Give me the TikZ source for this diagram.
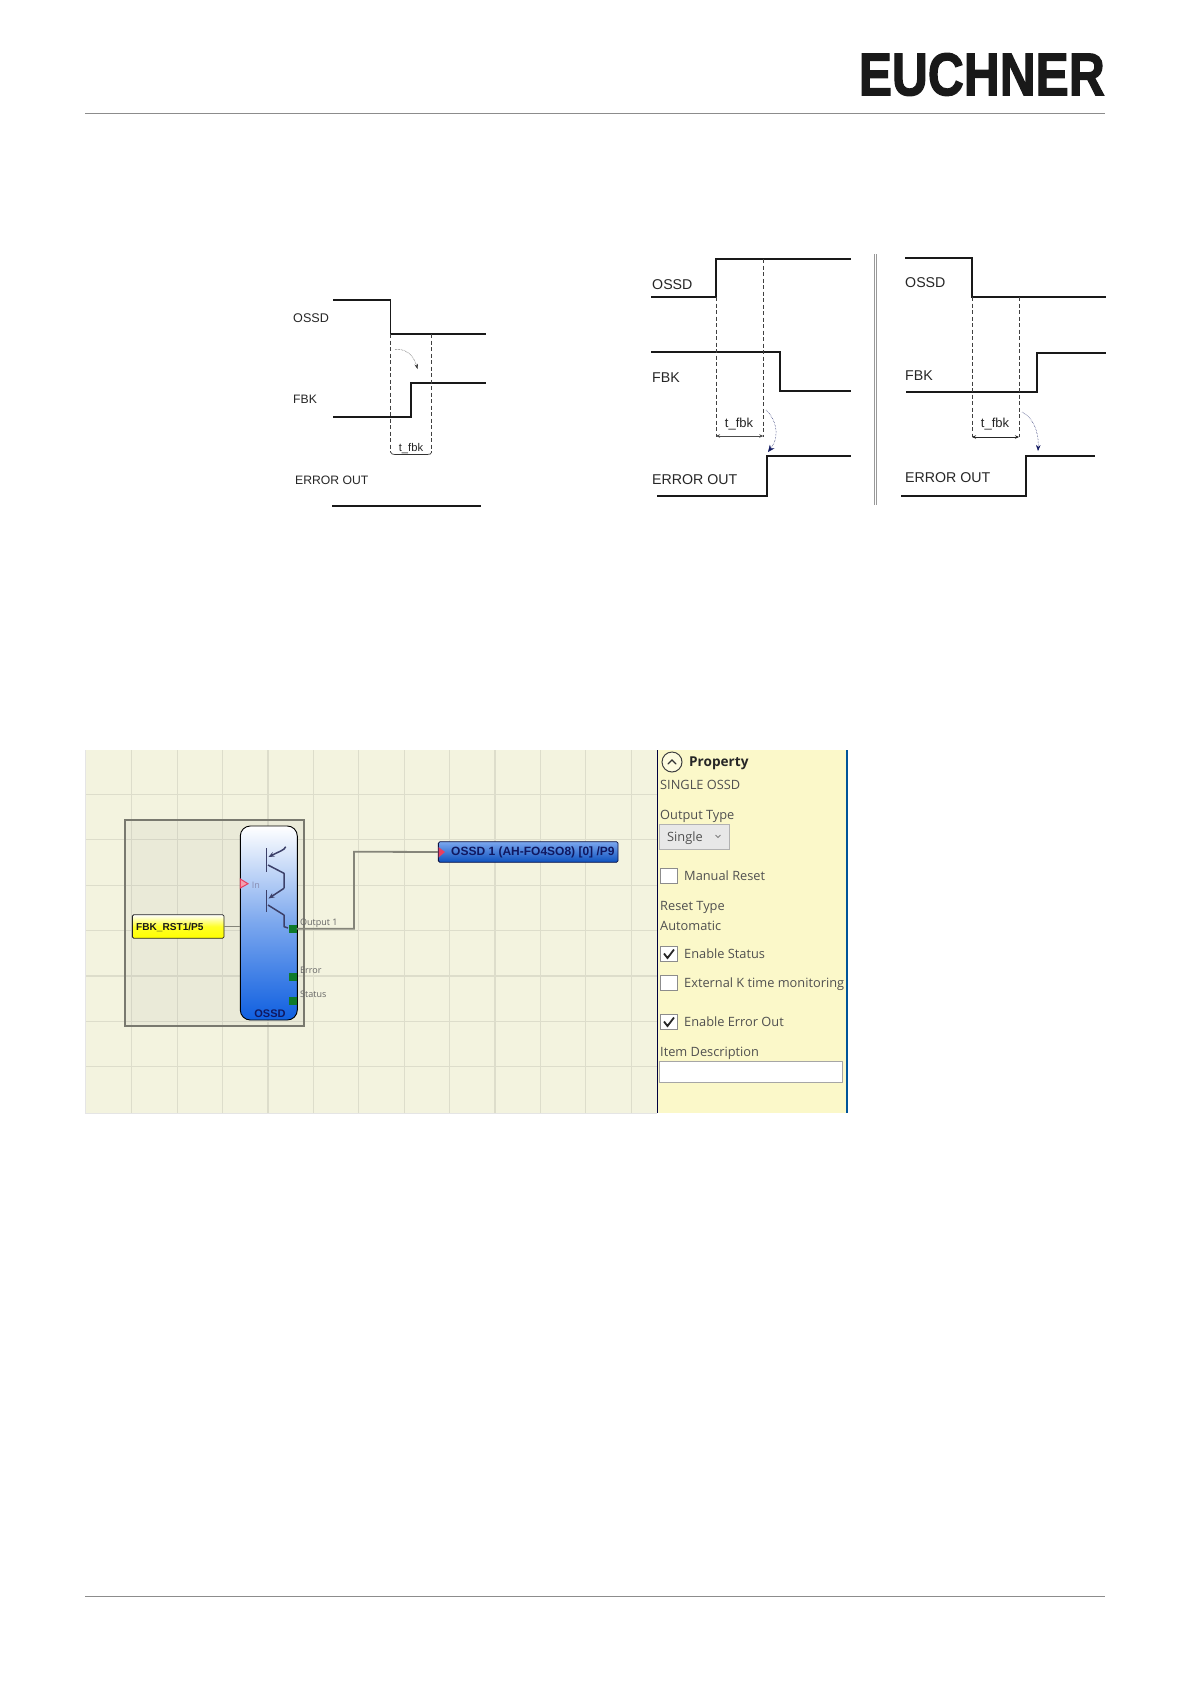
\documentclass[tikz,border=0pt]{standalone}
\usepackage{fontspec}
\usepackage{graphicx}
\setmainfont{Liberation Sans}
\newfontfamily\uifont{Open Sans}
\newfontfamily\logofont[BoldFeatures={FakeBold=2.2}]{Liberation Sans}
\usetikzlibrary{arrows.meta}
\definecolor{gridbg}{HTML}{F3F3DF}
\definecolor{gridln}{HTML}{DDDDCB}
\definecolor{panelbg}{HTML}{FBF8C9}
\definecolor{wirec}{HTML}{85857A}
\definecolor{navyc}{HTML}{101860}
\definecolor{greenc}{HTML}{0F7A2A}
\definecolor{redtri}{HTML}{E84060}
\definecolor{bluec}{HTML}{0F5FE0}
\definecolor{uitext}{HTML}{505050}
\newcommand{\fs}[1]{\fontsize{#1}{#1}\selectfont}
\tikzset{
  sig/.style={line width=2pt,line join=miter,color=black!90},
  sigthin/.style={line width=1.4pt,color=black!90},
  dashl/.style={line width=.6pt,dash pattern=on 4pt off 2.5pt,color=black!75},
  lab/.style={anchor=west,inner sep=0pt,text height=.72em,text depth=0pt,text=black!85},
  lablarge/.style={lab,font=\fs{14.2}},
  labsmall/.style={lab,font=\fs{12.2}},
  tlab/.style={anchor=center,inner sep=0pt,text height=.72em,text depth=0pt,text=black!85},
  curveblue/.style={line width=.5pt,densely dotted,color=navyc,-{Stealth[length=7pt,width=6pt,color=navyc]}},
  ui/.style={lab,font=\uifont\fs{12.8},text=uitext},
  uibox/.style={draw=black!45,fill=white,line width=.8pt,minimum width=17pt,minimum height=15pt,inner sep=0pt},
  port/.style={fill=greenc,minimum width=8pt,minimum height=8pt,inner sep=0pt},
  portlab/.style={lab,font=\uifont\fs{9},text=black!60},
  wire/.style={line width=1.8pt,color=wirec},
  tran/.style={line width=1.5pt,color=navyc!70!black!80,line join=round},
}
\begin{document}
\begin{tikzpicture}[x=1pt,y=-1pt]
\useasboundingbox (0,0) rectangle (1191,1684);
\fill[white] (0,0) rectangle (1191,1684);
% header and footer
\node[inner sep=0pt,anchor=north east,text=black!90] (logo) at (1105,53) {\resizebox{246pt}{42pt}{\logofont\bfseries EUCHNER}};
\coordinate (hl) at (85,113); \coordinate (hr) at (1105,113);
\draw[black!45,line width=1pt] (hl) -- (hr);
\coordinate (fl) at (85,1596); \coordinate (fr) at (1105,1596);
\draw[black!45,line width=1pt] (fl) -- (fr);
% timing left
\draw[sigthin] (333,300) -- (390.5,300) -- (390.5,333.7);
\draw[sig] (390.5,333.7) -- (486,333.7);
\draw[sig] (333,416.7) -- (411,416.7) -- (411,383) -- (486,383);
\draw[sig] (332,506) -- (481,506);
\draw[dashl] (390.5,334) -- (390.5,452);
\draw[dashl] (431.7,334) -- (431.7,452);
\draw[line width=.7pt,black!80] (390.5,452) .. controls (391,454) and (393,454.5) .. (395,454.5) -- (427,454.5) .. controls (430,454.5) and (431.5,454) .. (431.7,452);
\draw[line width=.5pt,densely dotted,black!80,-{Stealth[length=5pt,width=3.5pt]}] (395,349.5) .. controls (406,348) and (414,356) .. (417.5,369);
\node[lab,font=\fs{12.6}] (a1) at (293,319) {OSSD};
\node[lab,font=\fs{12.2}] (a2) at (293,400) {FBK};
\node[labsmall] (a3) at (295,481) {ERROR OUT};
\node[tlab,font=\fs{11.2}] (a4) at (411,448) {t\_fbk};
% timing middle
\draw[sig] (651,297) -- (716,297) -- (716,258.7) -- (851,258.7);
\draw[sig] (651,352) -- (780,352) -- (780,391) -- (851,391);
\draw[sig] (657,495.5) -- (767,495.5) -- (767,456) -- (851,456);
\draw[dashl] (716,297) -- (716,437);
\draw[dashl] (763.3,259) -- (763.3,437);
\draw[line width=.8pt,black!70,{Stealth[length=4pt,width=3.5pt]}-{Stealth[length=4pt,width=3.5pt]}] (716,436) -- (763.3,436);
\draw[curveblue] (766,410) .. controls (775,418) and (781,435) .. (768,452);
\node[lablarge] (b1) at (652,285.5) {OSSD};
\node[lablarge] (b2) at (652,378.5) {FBK};
\node[lablarge] (b3) at (652,480.5) {ERROR OUT};
\node[tlab,font=\fs{13}] (b4) at (739,424) {t\_fbk};
% separator
\draw[black!40,line width=.9pt] (874.3,254) -- (874.3,505);
\draw[black!40,line width=.9pt] (876.3,254) -- (876.3,505);
% timing right
\draw[sig] (905,258) -- (972,258) -- (972,297) -- (1106,297);
\draw[sig] (906,392) -- (1037,392) -- (1037,353) -- (1106,353);
\draw[sig] (901,496) -- (1026,496) -- (1026,456) -- (1095,456);
\draw[dashl] (972,297) -- (972,437);
\draw[dashl] (1019,297) -- (1019,437);
\draw[line width=.8pt,black!85,{Stealth[length=4pt,width=3.5pt]}-{Stealth[length=4pt,width=3.5pt]}] (972,437) -- (1019,437);
\draw[line width=.5pt,densely dotted,color=navyc,-{Stealth[length=6pt,width=4.5pt,color=navyc]}] (1022,412) .. controls (1032,417) and (1039,430) .. (1038,451);
\node[lablarge] (c1) at (905,283.5) {OSSD};
\node[lablarge] (c2) at (905,376.5) {FBK};
\node[lablarge] (c3) at (905,478.5) {ERROR OUT};
\node[tlab,font=\fs{13}] (c4) at (995,424) {t\_fbk};
% screenshot backgrounds
\fill[gridbg] (85,750) rectangle (657,1113);
\fill[panelbg] (657,750) rectangle (847,1113);
\foreach \k in {0,...,11} \draw[gridln,line width=1.2pt] ({131.7+45.4*\k},750) -- ({131.7+45.4*\k},1113);
\foreach \k in {0,...,6} \draw[gridln,line width=1.2pt] (85,{794.3+45.4*\k}) -- (657,{794.3+45.4*\k});
\draw[black!10,line width=.8pt] (85,750) -- (85,1113) -- (657,1113);
\draw[black!75!blue,line width=1pt] (657,750) -- (657,1113);
\draw[blue!45!cyan!60!black,line width=2pt] (847,750) -- (847,1113);
% group box
\fill[black!35,opacity=.11] (125.3,819.7) rectangle (304,1026);
\draw[black!50!gridbg,line width=1.8pt] (125.3,819.7) rectangle (304,1026);
% block
\node[draw=black,line width=.9pt,rounded corners=10pt,top color=white,bottom color=bluec,middle color=bluec!55!white,minimum width=57pt,minimum height=194pt,inner sep=0pt] (block) at (268.8,923) {};
\node[inner sep=0pt,font=\bfseries\fs{11},text=navyc] (blockl) at (270,1013.5) {OSSD};
% transistors
\draw[tran] (266.7,848) -- (266.7,871.7);
\draw[tran] (266.7,890) -- (266.7,911.7);
\draw[tran,-{Stealth[length=6pt,width=5pt]}] (285.7,846.7) .. controls (285,850) and (278,852) .. (268.5,857);
\draw[tran] (268,865) -- (284,873.3) -- (284,888.3);
\draw[tran,-{Stealth[length=6pt,width=5pt]}] (284,888.3) -- (268.5,898.5);
\draw[tran] (268,905) -- (284,915) -- (284,926.7) -- (288,928);
% ports
\node[port] (out1) at (292.5,928.7) {};
\node[port] (err) at (292.5,976.7) {};
\node[port] (stat) at (292.5,1000.7) {};
\fill[redtri!50!white,draw=redtri,line width=1pt] (240.3,879) -- (248,883.7) -- (240.3,888) -- cycle;
\node[portlab,text=navyc!50!white] (inl) at (251.7,885) {In};
\node[portlab] (o1l) at (300,921.7) {Output 1};
\node[portlab] (el) at (300,970) {Error};
\node[portlab] (sl) at (300,994) {Status};
% yellow input
\node[draw=black!85,line width=.8pt,rounded corners=1.5pt,top color=white,bottom color=yellow,middle color=yellow!85!white,minimum width=91.7pt,minimum height=23.6pt,inner sep=0pt] (fbk) at (178.2,926.5) {};
\node[anchor=west,inner sep=0pt,font=\bfseries\fs{10.1},text=black!90] (fbkl) at (136,927.5) {FBK\_RST1/P5};
\draw[wire] (fbk.east) -- (block.west |- fbk.east);
% output
\node[draw=navyc!70!black,line width=.8pt,rounded corners=1.5pt,top color=bluec!55!white,bottom color=bluec!85!black,minimum width=179.7pt,minimum height=20.6pt,inner sep=0pt] (ossd) at (528.2,852) {};
\node[anchor=west,inner sep=0pt,font=\bfseries\fs{12},text=navyc] (ossdl) at (451,852.5) {OSSD 1 (AH-FO4SO8) [0] /P9};
\fill[redtri] (438.5,847) -- (445,852) -- (438.5,857.5) -- cycle;
\coordinate (knee) at (354,851.7);
\draw[wire] (out1.east) -- (out1.east -| knee) -- (knee) -- (ossd.west);
% property panel
\node[circle,draw=black!75,fill=white!40!panelbg,line width=1pt,minimum size=20pt,inner sep=0pt] (pcirc) at (672,762) {};
\draw[black!80,line width=1.2pt,line cap=round] ([shift={(-4,2)}]pcirc.center) -- ([shift={(0,-2)}]pcirc.center) -- ([shift={(4,2)}]pcirc.center);
\node[ui,font=\uifont\bfseries\fs{13.6},text=black!85] (pprop) at (689,763) {Property};
\node[ui] (p1) at (660,786) {SINGLE OSSD};
\node[ui] (p2) at (660,816) {Output Type};
\node[draw=black!30,fill=black!9,line width=1pt,minimum width=70pt,minimum height=25pt,inner sep=0pt] (dd) at (694,836.5) {};
\node[ui] (p3) at (667,838) {Single};
\draw[black!50,line width=.8pt] (715.5,835) -- (718,837.5) -- (720.5,835);
\node[uibox] (cb1) at (669,876) {};
\node[ui] (p4) at (684,877) {Manual Reset};
\node[ui] (p5) at (660,907) {Reset Type};
\node[ui] (p6) at (660,927) {Automatic};
\node[uibox] (cb2) at (669,953.5) {};
\draw[black!85,line width=1.8pt] (664,953.5) -- (667.5,958) -- (674,949.5);
\node[ui] (p7) at (684,955) {Enable Status};
\node[uibox] (cb3) at (669,982.5) {};
\node[ui] (p8) at (684,984) {External K time monitoring};
\node[uibox] (cb4) at (669,1021.5) {};
\draw[black!85,line width=1.8pt] (664,1021.5) -- (667.5,1026) -- (674,1017.5);
\node[ui] (p9) at (684,1023) {Enable Error Out};
\node[ui] (p10) at (660,1053) {Item Description};
\node[draw=black!35,fill=white,line width=.9pt,minimum width=183.7pt,minimum height=20.3pt,inner sep=0pt] (tb) at (750.9,1071.8) {};
\end{tikzpicture}
\end{document}
